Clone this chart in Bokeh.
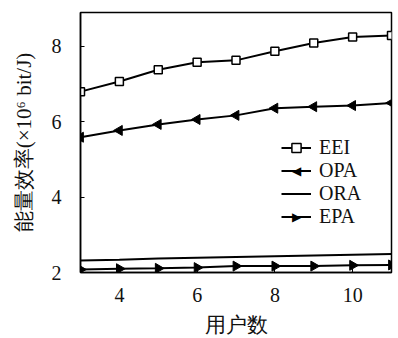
import math
from bokeh.plotting import figure
from bokeh.models import Range1d, Legend, LegendItem, FixedTicker, Label
from bokeh.embed import file_html
from bokeh.resources import INLINE

users = [3, 4, 5, 6, 7, 8, 9, 10, 11]
eei = [6.80, 7.07, 7.38, 7.58, 7.63, 7.87, 8.09, 8.25, 8.29]
opa = [5.59, 5.77, 5.93, 6.06, 6.17, 6.36, 6.40, 6.43, 6.50]
ora = [2.32, 2.34, 2.37, 2.39, 2.41, 2.43, 2.45, 2.47, 2.49]
epa = [2.08, 2.10, 2.11, 2.13, 2.17, 2.17, 2.17, 2.19, 2.20]
x_ticks = [4, 6, 8, 10]
y_ticks = [2, 4, 6, 8]

SERIF = "'Liberation Serif'"
X0, X1, Y0, Y1 = 3, 11, 2, 8.9
FW, FH = 311, 260

p = figure(frame_width=FW, frame_height=FH, output_backend="svg", toolbar_location=None,
           x_range=Range1d(X0, X1), y_range=Range1d(Y0, Y1),
           min_border_left=80, min_border_right=3, min_border_top=12, min_border_bottom=10)
p.grid.visible = False
p.outline_line_color = "black"
p.outline_line_width = 1.5
p.background_fill_color = "white"

p.xaxis.ticker = FixedTicker(ticks=x_ticks)
p.yaxis.ticker = FixedTicker(ticks=y_ticks)
for ax in (p.xaxis[0], p.yaxis[0]):
    ax.major_tick_in = 4
    ax.major_tick_out = 0
    ax.minor_tick_line_color = None
    ax.axis_line_width = 1.5
    ax.major_tick_line_width = 1
    ax.major_label_text_font = SERIF
    ax.major_label_text_font_size = "20px"
    ax.major_label_text_color = "#111111"
    ax.axis_label_text_font = SERIF
    ax.axis_label_text_font_size = "21px"
    ax.axis_label_text_font_style = "normal"
    ax.axis_label_text_color = "#111111"
p.xaxis.axis_label = "用户数"
p.yaxis.axis_label = "能量效率(×10⁶ bit/J)"
p.xaxis.major_label_standoff = 15
p.yaxis.major_label_standoff = 19
p.xaxis.axis_label_standoff = 8
p.yaxis.axis_label_standoff = 13

lw = 2
r1 = p.line(users, eei, line_color="black", line_width=lw)
m1 = p.scatter(users, eei, marker="square", size=8, line_color="black", line_width=1.5, fill_color="white")
r2 = p.line(users, opa, line_color="black", line_width=lw)
m2 = p.scatter(users, opa, marker="triangle", angle=90, angle_units="deg", size=10,
               line_color="black", fill_color="black")
r3 = p.line(users, ora, line_color="black", line_width=lw)
r4 = p.line(users, epa, line_color="black", line_width=lw)
m4 = p.scatter(users, epa, marker="triangle", angle=-90, angle_units="deg", size=10,
               line_color="black", fill_color="black")

LEG_X, LEG_Y = 201, 44
GW, GH, SP = 30, 23, 0
legend = Legend(items=[
    LegendItem(label="EEI", renderers=[r1, m1]),
    LegendItem(label="OPA", renderers=[r2]),
    LegendItem(label="ORA", renderers=[r3]),
    LegendItem(label="EPA", renderers=[r4]),
], location=(LEG_X, LEG_Y))
legend.border_line_color = None
legend.background_fill_alpha = 0
legend.label_text_font = SERIF
legend.label_text_font_size = "20px"
legend.label_text_color = "#111111"
legend.glyph_width = GW
legend.glyph_height = GH
legend.label_height = GH
legend.spacing = SP
legend.padding = 0
legend.margin = 0
legend.label_standoff = 8
p.add_layout(legend, "center")

# rotated triangle symbols for the legend entries (legend glyphs are never rotated)
n_items = 4
leg_h = n_items * GH + (n_items - 1) * SP
for idx, sym in ((1, "◀"), (3, "▶")):
    cy_px = LEG_Y + leg_h - idx * (GH + SP) - GH / 2
    cx_px = LEG_X + GW / 2
    p.add_layout(Label(x=X0 + cx_px / FW * (X1 - X0), y=Y0 + cy_px / FH * (Y1 - Y0),
                       text=sym, text_align="center", text_baseline="middle",
                       text_font="DejaVu Sans", text_font_size="12px", text_color="black"))

open("out.html", "w").write(file_html(p, INLINE))
